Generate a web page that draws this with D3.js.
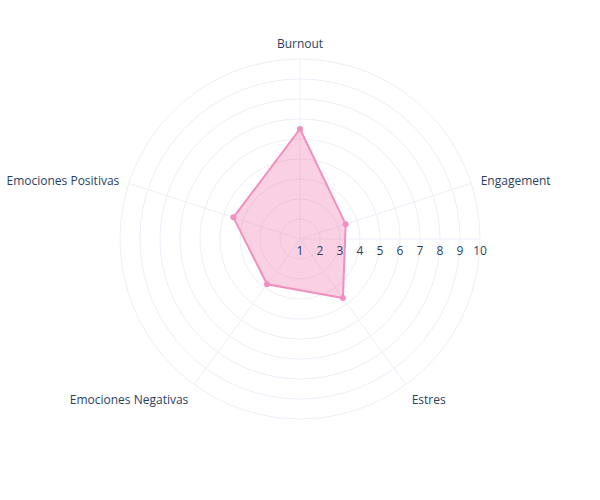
<!DOCTYPE html>
<html><head><meta charset="utf-8">
<script src="https://cdn.jsdelivr.net/npm/d3@7"></script>
<style>body{margin:0;background:#fff}text{font-family:"Open Sans",sans-serif;font-size:12px;fill:#2a3f5f}</style>
</head><body><div id="chart"></div>
<script>
const categories = ["Burnout", "Engagement", "Estres", "Emociones Negativas", "Emociones Positivas"];
const values = [6.5, 3.4, 4.65, 3.8, 4.5];
const ticks = [1, 2, 3, 4, 5, 6, 7, 8, 9, 10];

const cx = 300, cy = 239, R = 180;
const svg = d3.select("#chart").append("svg").attr("width", 600).attr("height", 500);
const g = svg.append("g").attr("transform", `translate(${cx},${cy})`);
const r = d3.scaleLinear().domain([1, 10]).range([0, R]);
const ang = d3.scalePoint().domain(categories.concat(["_"])).range([0, 2 * Math.PI]);
const pt = (c, v) => [r(v) * Math.sin(ang(c)), -r(v) * Math.cos(ang(c))];

// grid circles
g.selectAll("circle.grid").data(ticks.slice(1)).enter().append("circle")
  .attr("r", d => r(d)).attr("fill", "none").attr("stroke", "#ebf0f8").attr("stroke-width", 1);

// spokes
g.selectAll("line.spoke").data(categories).enter().append("line")
  .attr("x1", 0).attr("y1", 0)
  .attr("x2", d => pt(d, 10)[0]).attr("y2", d => pt(d, 10)[1])
  .attr("stroke", "#ebf0f8");

// radial axis line
g.append("line").attr("x1", 0).attr("y1", 0).attr("x2", R).attr("y2", 0).attr("stroke", "#ebf0f8");

// category labels
g.selectAll("text.cat").data(categories).enter().append("text")
  .attr("x", d => (R + 10) * Math.sin(ang(d)))
  .attr("y", d => -(R + 10) * Math.cos(ang(d)))
  .attr("dy", d => { const c = Math.cos(ang(d)); return c > 0.9 ? "-0.1em" : c < -0.5 ? "0.9em" : "0.35em"; })
  .attr("text-anchor", d => { const s = Math.sin(ang(d)); return Math.abs(s) < 0.1 ? "middle" : s > 0 ? "start" : "end"; })
  .text(d => d);

// series
const poly = categories.map((c, i) => pt(c, values[i]));
g.append("path").attr("d", d3.line()(poly) + "Z")
  .attr("fill", "rgba(240,120,175,0.35)").attr("stroke", "#f08fc0").attr("stroke-width", 2);
g.selectAll("circle.pt").data(poly).enter().append("circle")
  .attr("cx", d => d[0]).attr("cy", d => d[1]).attr("r", 3).attr("fill", "#f08fc0");

// tick labels
g.selectAll("text.tick").data(ticks).enter().append("text")
  .attr("x", d => r(d)).attr("y", 16).attr("text-anchor", "middle").text(d => d);
</script></body></html>
